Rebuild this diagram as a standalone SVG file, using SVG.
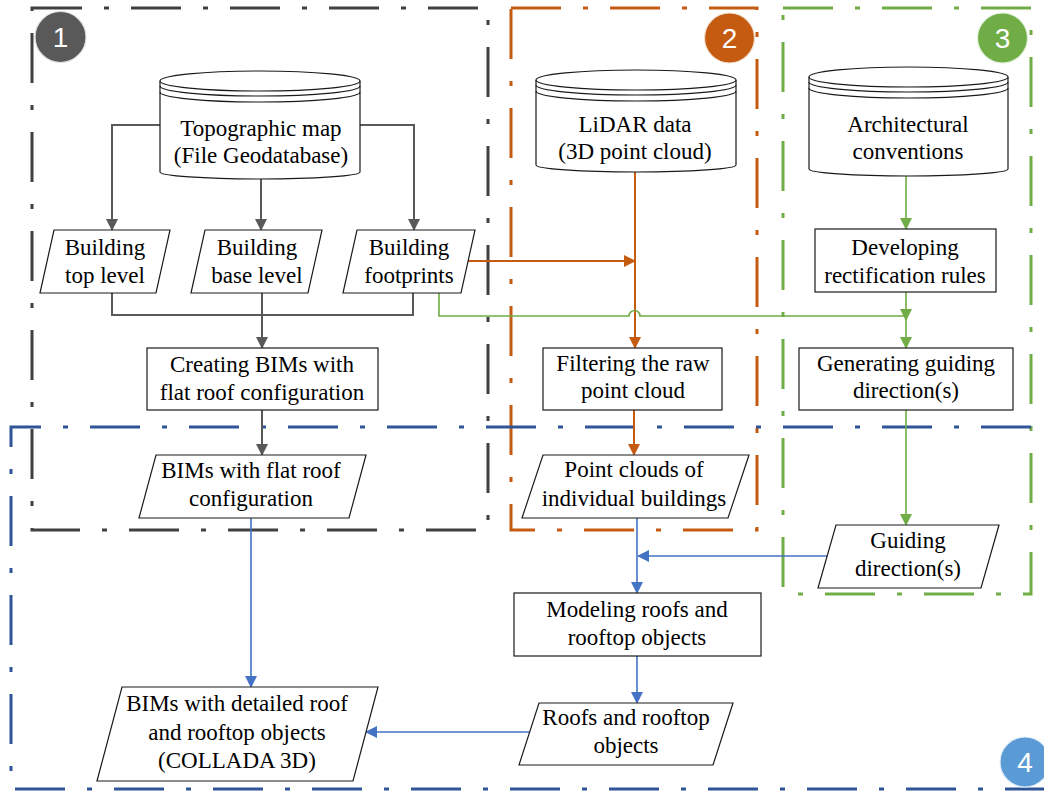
<svg xmlns="http://www.w3.org/2000/svg" width="1044" height="792" viewBox="0 0 1044 792">
<style>
.reg{fill:none;stroke-width:3;stroke-dasharray:50 22 5 22}
.node{fill:#fff;stroke:#1a1a1a;stroke-width:1.2}
.arc{fill:none;stroke:#1a1a1a;stroke-width:1.2}
.c{fill:none;stroke-width:2}
.g{stroke:#595959}
.o{stroke:#C55A11}
.gr{stroke:#70AD47;stroke-width:1.6}
.b{stroke:#4472C4;stroke-width:1.6}
text{font-family:"Liberation Serif","Times New Roman",serif;font-size:23px;text-anchor:middle;fill:#000}
.num{font-family:"Liberation Sans",Arial,sans-serif;font-size:28px;fill:#fff}
</style>
<defs>
<marker id="aG" markerUnits="userSpaceOnUse" markerWidth="12" markerHeight="12" refX="11" refY="6" orient="auto"><path d="M0,0L12,6L0,12z" fill="#595959"/></marker>
<marker id="aO" markerUnits="userSpaceOnUse" markerWidth="12" markerHeight="12" refX="11" refY="6" orient="auto"><path d="M0,0L12,6L0,12z" fill="#C55A11"/></marker>
<marker id="aGr" markerUnits="userSpaceOnUse" markerWidth="12" markerHeight="12" refX="11" refY="6" orient="auto"><path d="M0,0L12,6L0,12z" fill="#70AD47"/></marker>
<marker id="aB" markerUnits="userSpaceOnUse" markerWidth="12" markerHeight="12" refX="11" refY="6" orient="auto"><path d="M0,0L12,6L0,12z" fill="#4472C4"/></marker>
</defs>
<rect width="1044" height="792" fill="#fff"/>
<g id="regions">
<rect class="reg" x="32" y="8" width="456" height="522" stroke="#404040"/>
<rect class="reg" x="511" y="8" width="246" height="522" stroke="#C55A11"/>
<rect class="reg" x="783" y="8" width="248" height="586" stroke="#70AD47"/>
<path class="reg" d="M1031,427H11V789H1044" stroke="#2F5597"/>
</g>
<g id="connectors">
<path class="c g" d="M160,125H112V230" marker-end="url(#aG)"/>
<path class="c g" d="M261,179V230" marker-end="url(#aG)"/>
<path class="c g" d="M360,125H414V230" marker-end="url(#aG)"/>
<path class="c g" d="M112,293V315H413V293"/>
<path class="c g" d="M262,293V348" marker-end="url(#aG)"/>
<path class="c g" d="M262,410V455" marker-end="url(#aG)"/>
<path class="c o" d="M635,172V348" marker-end="url(#aO)"/>
<path class="c o" d="M468,261H635" marker-end="url(#aO)"/>
<path class="c o" d="M634,410V455" marker-end="url(#aO)"/>
<path class="c gr" d="M906,176V229" marker-end="url(#aGr)"/>
<path class="c gr" d="M906,292V348" marker-end="url(#aGr)"/>
<path class="c gr" d="M439,293V316H629A5.5,5.5 0 0 1 640,316H906V320" marker-end="url(#aGr)"/>
<path class="c gr" d="M906,410V525" marker-end="url(#aGr)"/>
<path class="c b" d="M251,518V687" marker-end="url(#aB)"/>
<path class="c b" d="M637,518V593" marker-end="url(#aB)"/>
<path class="c b" d="M827,556H638" marker-end="url(#aB)"/>
<path class="c b" d="M637,656V703" marker-end="url(#aB)"/>
<path class="c b" d="M530,732H366" marker-end="url(#aB)"/>
</g>
<g id="topo">
<path class="node" d="M160,81V172A100,7 0 0 0 360,172V81"/>
<ellipse class="node" cx="260" cy="81" rx="100" ry="10"/>
<path class="arc" d="M160,86A100,10 0 0 0 360,86M160,92A100,10 0 0 0 360,92"/>
<text x="261" y="136">Topographic map</text>
<text x="261" y="163">(File Geodatabase)</text>
</g>
<g id="lidar">
<path class="node" d="M536,80V165A100,7 0 0 0 736,165V80"/>
<ellipse class="node" cx="636" cy="80" rx="100" ry="10"/>
<path class="arc" d="M536,85A100,10 0 0 0 736,85M536,91A100,10 0 0 0 736,91"/>
<text x="635" y="132">LiDAR data</text>
<text x="635" y="159">(3D point cloud)</text>
</g>
<g id="arch">
<path class="node" d="M809,77V169A99.5,7 0 0 0 1008,169V77"/>
<ellipse class="node" cx="908.5" cy="77" rx="99.5" ry="10"/>
<path class="arc" d="M809,82A99.5,10 0 0 0 1008,82M809,88A99.5,10 0 0 0 1008,88"/>
<text x="908" y="132">Architectural</text>
<text x="908" y="159">conventions</text>
</g>
<g id="top-level">
<polygon class="node" points="54,230 170,230 156,293 40,293"/>
<text x="105" y="255">Building</text>
<text x="105" y="283">top level</text>
</g>
<g id="base-level">
<polygon class="node" points="205,230 322,230 308,293 191,293"/>
<text x="257" y="255">Building</text>
<text x="257" y="283">base level</text>
</g>
<g id="footprints">
<polygon class="node" points="357,230 475,230 461,293 343,293"/>
<text x="409" y="255">Building</text>
<text x="409" y="283">footprints</text>
</g>
<g id="developing">
<rect class="node" x="815" y="229" width="181" height="63"/>
<text x="905" y="255">Developing</text>
<text x="905" y="283">rectification rules</text>
</g>
<g id="creating">
<rect class="node" x="147" y="348" width="231" height="62"/>
<text x="262" y="372">Creating BIMs with</text>
<text x="262" y="400">flat roof configuration</text>
</g>
<g id="filtering">
<rect class="node" x="543" y="348" width="179" height="62"/>
<text x="633" y="371">Filtering the raw</text>
<text x="633" y="398">point cloud</text>
</g>
<g id="generating">
<rect class="node" x="799" y="348" width="214" height="62"/>
<text x="906" y="371">Generating guiding</text>
<text x="906" y="398">direction(s)</text>
</g>
<g id="bims-flat">
<polygon class="node" points="156,455 366,455 349,518 139,518"/>
<text x="251" y="478">BIMs with flat roof</text>
<text x="251" y="506">configuration</text>
</g>
<g id="point-clouds">
<polygon class="node" points="543,455 749,455 728,518 522,518"/>
<text x="634" y="477">Point clouds of</text>
<text x="634" y="506">individual buildings</text>
</g>
<g id="guiding">
<polygon class="node" points="836,525 999,525 981,588 818,588"/>
<text x="908" y="548">Guiding</text>
<text x="908" y="576">direction(s)</text>
</g>
<g id="modeling">
<rect class="node" x="514" y="593" width="247" height="63"/>
<text x="637" y="617">Modeling roofs and</text>
<text x="637" y="645">rooftop objects</text>
</g>
<g id="roofs">
<polygon class="node" points="539,703 733,703 713,765 519,765"/>
<text x="626" y="725">Roofs and rooftop</text>
<text x="626" y="753">objects</text>
</g>
<g id="bims-detailed">
<polygon class="node" points="122,687 378,687 353,781 97,781"/>
<text x="237" y="711">BIMs with detailed roof</text>
<text x="237" y="740">and rooftop objects</text>
<text x="237" y="768">(COLLADA 3D)</text>
</g>
<g id="badges">
<circle cx="60.5" cy="37" r="25.5" fill="#595959" stroke="#e0e0e0" stroke-width="1.2"/>
<text class="num" x="60.5" y="47">1</text>
<circle cx="729.5" cy="38" r="25" fill="#C55A11" stroke="#f0e0d0" stroke-width="1.2"/>
<text class="num" x="729.5" y="48">2</text>
<circle cx="1002.5" cy="38" r="25" fill="#70AD47" stroke="#e0f0d8" stroke-width="1.2"/>
<text class="num" x="1002.5" y="48">3</text>
<circle cx="1025" cy="762" r="25" fill="#5B9BD5" stroke="#e0ecf8" stroke-width="1.2"/>
<text class="num" x="1025" y="772">4</text>
</g>
</svg>
